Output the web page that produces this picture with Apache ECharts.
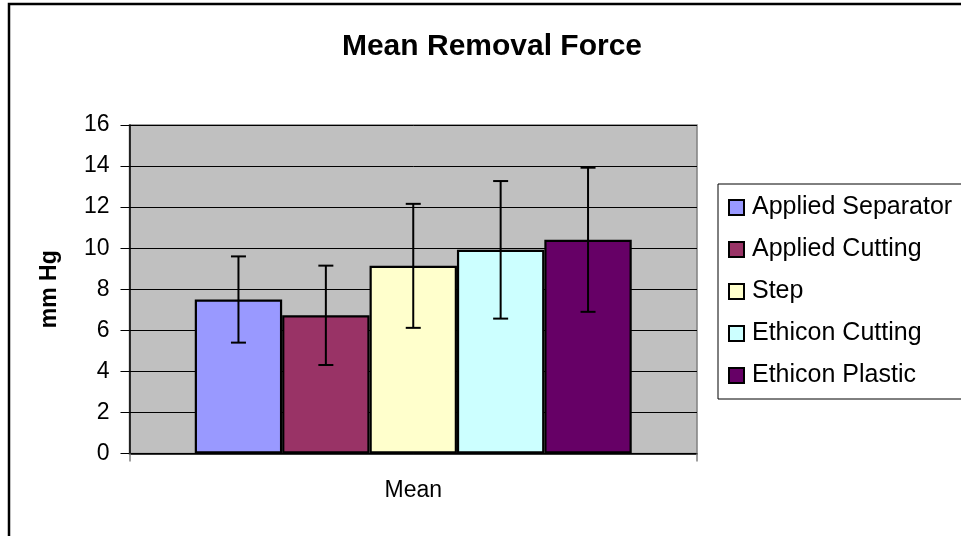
<!DOCTYPE html>
<html>
<head>
<meta charset="utf-8">
<script src="https://cdn.jsdelivr.net/npm/echarts@6/dist/echarts.min.js"></script>
<style>
html,body{margin:0;padding:0;background:#fff;}
#chart{width:961px;height:536px;}
</style>
</head>
<body>
<div id="chart"></div>
<script>
// data
const categories=["Mean"];
const seriesNames=[
    "Applied Separator",
    "Applied Cutting",
    "Step",
    "Ethicon Cutting",
    "Ethicon Plastic"
];
const meanValues=[7.5,6.73,9.14,9.92,10.41];
const errorValues=[2.1,2.42,3.02,3.35,3.51];
const seriesColors=["#9999FF","#993366","#FFFFCC","#CCFFFF","#660066"];
const yTicks=[0,2,4,6,8,10,12,14,16];

const FONT="'Liberation Sans', Arial, sans-serif";
const CAT_GAP=0.23;

const chart=echarts.init(document.getElementById("chart"));

const barSeries=seriesNames.map((name,i)=>({
    name,
    type:"bar",
    data:[meanValues[i]],
    barGap:"0%",
    barCategoryGap:(CAT_GAP*100)+"%",
    itemStyle:{
        color:seriesColors[i],
        borderColor:"#000",
        borderWidth:2.2
    },
    emphasis:{disabled:true}
}));

// error bars drawn on top of each bar
const errorData=meanValues.map((m,i)=>[0,m-errorValues[i],m+errorValues[i],i]);

const errorSeries={
    type:"custom",
    silent:true,
    z:10,
    data:errorData,
    encode:{x:0,y:[1,2]},
    renderItem(params,api){
        const idx=api.value(3);
        const band=api.size([1,0])[0];
        const barW=band*(1-CAT_GAP)/seriesNames.length;
        const lo=api.coord([api.value(0),api.value(1)]);
        const hi=api.coord([api.value(0),api.value(2)]);
        const x=lo[0]-band*(1-CAT_GAP)/2+barW*(idx+0.5);
        const cap=7.5;
        const style={stroke:"#000",lineWidth:2};
        return {
            type:"group",
            children:[
                {type:"line",shape:{x1:x,y1:lo[1],x2:x,y2:hi[1]},style},
                {type:"line",shape:{x1:x-cap,y1:lo[1],x2:x+cap,y2:lo[1]},style},
                {type:"line",shape:{x1:x-cap,y1:hi[1],x2:x+cap,y2:hi[1]},style}
            ]
        };
    }
};

chart.setOption({
    backgroundColor:"#ffffff",
    animation:false,
    textStyle:{fontFamily:FONT},
    title:{
        text:"Mean Removal Force",
        left:487,
        textAlign:"center",
        top:27,
        textStyle:{fontFamily:FONT,fontSize:30,fontWeight:"bold",color:"#000"}
    },
    graphic:[
        {
            type:"rect",
            shape:{x:9,y:4,width:1000,height:1000},
            style:{fill:"none",stroke:"#000",lineWidth:2.5},
            silent:true
        }
    ],
    legend:{
        orient:"vertical",
        left:718,
        top:184,
        padding:[11,40,11,10],
        itemGap:17,
        itemWidth:15,
        itemHeight:15,
        borderColor:"#000",
        borderWidth:1,
        icon:"rect",
        data:seriesNames,
        textStyle:{fontFamily:FONT,fontSize:25,color:"#000",lineHeight:25,padding:[0,0,0,3]}
    },
    grid:{
        left:129.5,
        right:264,
        top:125,
        bottom:82.5,
        show:true,
        backgroundColor:"#C0C0C0",
        borderColor:"#808080",
        borderWidth:1.5
    },
    xAxis:{
        type:"category",
        data:categories,
        axisLine:{lineStyle:{color:"#000",width:1.5}},
        axisTick:{show:true,length:8,lineStyle:{color:"#808080",width:1.5}},
        axisLabel:{fontFamily:FONT,fontSize:23,color:"#000",margin:26}
    },
    yAxis:{
        type:"value",
        min:yTicks[0],
        max:yTicks[yTicks.length-1],
        interval:yTicks[1]-yTicks[0],
        name:"mm Hg",
        nameLocation:"middle",
        nameGap:68,
        nameTextStyle:{fontFamily:FONT,fontSize:23,fontWeight:"bold",color:"#000"},
        axisLine:{show:true,lineStyle:{color:"#000",width:1.5}},
        axisTick:{show:true,length:9,lineStyle:{color:"#000",width:1}},
        axisLabel:{fontFamily:FONT,fontSize:23,color:"#000",margin:20},
        splitLine:{lineStyle:{color:"#000",width:1}}
    },
    series:[...barSeries,errorSeries]
});
</script>
</body>
</html>
